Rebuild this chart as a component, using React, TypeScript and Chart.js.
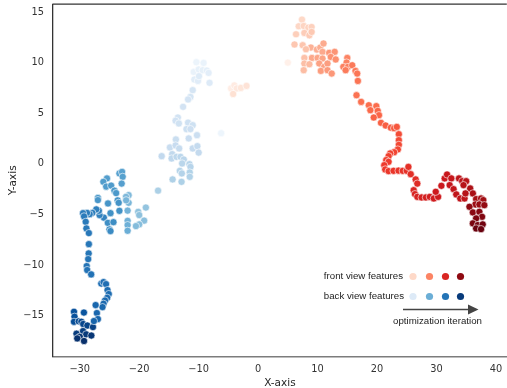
import React, { useEffect, useRef } from "react";
import { Chart, registerables } from "chart.js";

Chart.register(...registerables);

type Pt = [number, number];

// ---- front view features (red), grouped by optimization stage ----
const frontStage1: Pt[] = [
  [5.0, 10.0], [-4.55, 7.45], [-4.0, 7.75], [-3.6, 7.45], [-2.9, 7.5], [-1.95, 7.7], [-4.2, 6.9],
];
const frontStage2: Pt[] = [
  [7.38, 14.25], [6.83, 13.59], [7.67, 13.62], [8.45, 13.46], [9.0, 13.52], [6.38, 12.8], [7.78, 12.93],
  [8.62, 12.7], [9.0, 13.03], [6.12, 11.79], [7.5, 11.72], [8.05, 11.32], [7.78, 10.46], [7.78, 9.91],
  [7.67, 9.25], [8.62, 9.84],
];
const frontStage3: Pt[] = [
  [8.88, 11.49], [9.88, 11.29], [10.45, 11.49], [11.0, 11.89], [10.83, 11.06], [9.05, 10.46], [10.0, 10.46],
  [10.83, 10.4], [10.28, 9.91], [11.12, 9.58], [11.67, 9.91], [10.55, 9.18], [11.67, 9.25], [12.38, 8.92],
  [11.95, 10.96], [12.88, 11.06], [12.22, 10.56], [13.05, 10.31],
];
const frontStage4: Pt[] = [
  [15.0, 10.46], [14.88, 10.01], [14.33, 9.58], [15.12, 9.58], [14.72, 9.25], [15.83, 9.74], [16.38, 9.18],
  [16.67, 8.92], [16.78, 8.19], [16.55, 6.78], [17.33, 6.12], [18.62, 5.79], [19.88, 5.7], [18.88, 5.3],
  [20.12, 5.23], [20.33, 4.81], [19.45, 4.58], [20.67, 4.05], [21.45, 3.79], [22.33, 3.57], [22.88, 3.52],
  [23.33, 3.65],
];
const frontStage5: Pt[] = [
  [23.67, 2.93], [23.67, 2.34], [23.67, 1.88], [23.5, 1.42], [22.88, 1.15], [22.22, 1.03], [21.95, 0.76],
  [21.55, 0.37], [21.95, 0.2], [21.22, -0.13], [21.38, -0.55], [21.95, -0.72], [22.78, -0.69], [23.62, -0.67],
  [24.33, -0.69], [25.0, -0.69], [25.28, -0.3], [25.67, -1.02], [26.5, -1.54], [26.78, -1.95],
];
const frontStage6: Pt[] = [
  [26.17, -2.6], [26.38, -2.99], [26.78, -3.26], [27.5, -3.32], [28.22, -3.32], [28.88, -3.26], [29.55, -3.42],
  [30.28, -3.26], [29.88, -2.76], [30.83, -2.17], [31.38, -1.44], [31.78, -1.05], [32.5, -1.44], [32.22, -2.1],
  [32.88, -2.5], [33.33, -3.02], [34.0, -3.42], [34.72, -3.42], [33.78, -1.44], [34.33, -1.71], [35.0, -1.71],
  [34.55, -2.1], [34.88, -2.92],
];
const frontStage7: Pt[] = [
  [35.67, -2.43], [36.12, -2.92], [36.67, -3.48], [37.5, -3.42], [37.88, -3.58], [36.55, -4.01], [37.22, -4.01],
  [38.05, -4.08], [35.55, -4.24], [36.12, -4.8], [37.22, -4.74], [37.67, -5.23], [36.67, -5.39], [36.12, -5.88],
  [36.95, -6.05], [37.78, -5.98], [36.67, -6.38], [37.5, -6.45],
];

// ---- back view features (blue), grouped by optimization stage ----
const backStage1: Pt[] = [
  [-6.22, 3.03], [-10.38, 10.04], [-9.17, 9.97], [-10.83, 9.08], [-10.0, 9.32], [-9.33, 9.25], [-8.62, 9.22],
  [-8.33, 8.98], [-10.72, 8.33], [-10.12, 8.19], [-9.95, 8.66], [-8.17, 8.0],
];
const backStage2: Pt[] = [
  [-11.0, 7.28], [-11.38, 6.61], [-11.78, 6.36], [-12.62, 5.63], [-13.5, 4.58], [-13.88, 4.26], [-13.33, 3.99],
  [-11.78, 4.07], [-11.0, 3.82], [-12.05, 3.43], [-11.38, 3.43], [-10.28, 2.83], [-11.67, 2.51], [-13.83, 2.41],
  [-14.83, 1.62], [-13.88, 1.82], [-13.28, 1.52], [-11.0, 1.52], [-10.22, 1.75], [-10.0, 1.11], [-16.22, 0.76],
  [-14.45, 0.96], [-14.55, 0.53], [-13.72, 0.69], [-13.05, 0.69], [-12.5, 0.43], [-12.78, 0.04], [-11.55, -0.03],
  [-11.38, -0.3], [-13.17, -0.69], [-12.83, -0.95], [-11.5, -0.85], [-11.5, -1.28], [-14.38, -1.54],
  [-12.88, -1.78], [-16.83, -2.65],
];
const backStage3: Pt[] = [
  [-18.88, -4.32], [-20.17, -4.74], [-20.0, -5.06], [-19.17, -5.61], [-20.0, -5.98], [-20.55, -6.15],
  [-21.78, -3.09], [-22.22, -3.26], [-21.78, -3.85], [-22.2, -3.6], [-21.95, -4.62], [-21.95, -5.63],
  [-21.95, -6.05], [-21.95, -6.61],
];
const backStage4: Pt[] = [
  [-23.33, -0.95], [-22.88, -0.79], [-22.78, -1.28], [-22.95, -1.95], [-25.42, -1.44], [-26.03, -1.78],
  [-25.55, -2.25], [-24.72, -2.15], [-24.17, -2.65], [-23.88, -2.89], [-26.95, -3.37], [-26.95, -3.58],
  [-25.25, -3.91], [-23.62, -3.61], [-23.45, -3.85], [-23.33, -4.64], [-24.83, -4.87], [-25.28, -5.83],
  [-24.33, -5.76], [-25.0, -6.48], [-24.83, -6.64],
];
const backStage5: Pt[] = [
  [-25.95, -5.31], [-26.67, -5.06], [-26.78, -4.64], [-27.22, -4.5], [-27.88, -4.84], [-28.33, -4.97],
  [-28.78, -4.84], [-29.45, -4.87], [-29.28, -5.19], [-29.0, -5.73], [-28.88, -6.38], [-28.47, -6.84],
  [-28.47, -7.93], [-28.5, -8.85], [-28.58, -9.41], [-28.83, -10.1], [-28.75, -10.49], [-28.08, -10.92],
  [-26.38, -11.83], [-26.0, -11.68], [-25.58, -11.88], [-25.33, -12.47], [-25.12, -12.86], [-25.38, -13.23],
  [-25.75, -13.5], [-26.0, -13.82], [-26.17, -14.15], [-27.33, -13.95], [-27.12, -14.74], [-26.95, -15.33],
  [-27.62, -15.53],
];
const backStage6: Pt[] = [
  [-29.3, -14.69], [-30.97, -14.61], [-30.88, -15.1], [-30.97, -15.6], [-30.17, -15.56], [-29.72, -15.6],
  [-29.42, -15.82], [-28.72, -15.97], [-27.78, -16.12], [-29.45, -16.52], [-30.55, -16.78], [-28.92, -16.84],
  [-28.05, -16.96], [-30.0, -17.08], [-30.42, -17.24], [-29.28, -17.5],
];

const xTicks = [-30, -20, -10, 0, 10, 20, 30, 40];
const yTicks = [-15, -10, -5, 0, 5, 10, 15];
const xLabel = "X-axis";
const yLabel = "Y-axis";
const legendFront = "front view features";
const legendBack = "back view features";
const arrowLabel = "optimization iteration";

// ---- styling ----
const REDS = ["#fff5f0", "#fee0d2", "#fcbba1", "#fc9272", "#fb6a4a", "#ef3b2c", "#cb181d", "#a50f15", "#67000d"];
const BLUES = ["#f7fbff", "#deebf7", "#c6dbef", "#9ecae1", "#6baed6", "#4292c6", "#2171b5", "#08519c", "#08306b"];

function hexRgb(h: string) {
  const n = parseInt(h.slice(1), 16);
  return [(n >> 16) & 255, (n >> 8) & 255, n & 255];
}
function cmap(stops: string[], t: number) {
  const n = stops.length - 1;
  const p = Math.min(Math.max(t, 0), 1) * n;
  const i = Math.min(Math.floor(p), n - 1);
  const f = p - i;
  const a = hexRgb(stops[i]);
  const b = hexRgb(stops[i + 1]);
  const c = a.map((v, k) => Math.round(v + (b[k] - v) * f));
  return `rgb(${c[0]},${c[1]},${c[2]})`;
}

const stages = [
  { pts: backStage1, map: BLUES, from: 0.05, to: 0.13 },
  { pts: backStage2, map: BLUES, from: 0.17, to: 0.33 },
  { pts: backStage3, map: BLUES, from: 0.4, to: 0.5 },
  { pts: backStage4, map: BLUES, from: 0.55, to: 0.65 },
  { pts: backStage5, map: BLUES, from: 0.68, to: 0.8 },
  { pts: backStage6, map: BLUES, from: 0.86, to: 1.0 },
  { pts: frontStage1, map: REDS, from: 0.03, to: 0.12 },
  { pts: frontStage2, map: REDS, from: 0.15, to: 0.25 },
  { pts: frontStage3, map: REDS, from: 0.28, to: 0.38 },
  { pts: frontStage4, map: REDS, from: 0.42, to: 0.55 },
  { pts: frontStage5, map: REDS, from: 0.58, to: 0.68 },
  { pts: frontStage6, map: REDS, from: 0.7, to: 0.82 },
  { pts: frontStage7, map: REDS, from: 0.85, to: 1.0 },
];

const legendLevels = [0.15, 0.42, 0.7, 0.92];
const legendLevelsBlue = [0.13, 0.5, 0.74, 0.96];

const fmt = (v: number) => (v < 0 ? "\u2212" + Math.abs(v) : String(v));

const overlay = {
  id: "overlay",
  afterDraw(chart: any) {
    const ctx = chart.ctx as CanvasRenderingContext2D;
    const a = chart.chartArea;
    ctx.save();
    // top spine
    ctx.strokeStyle = "#333333";
    ctx.lineWidth = 1.3;
    ctx.beginPath();
    ctx.moveTo(a.left - 0.6, a.top);
    ctx.lineTo(a.right, a.top);
    ctx.stroke();

    // axis titles
    ctx.fillStyle = "#262626";
    ctx.font = '10.5px "DejaVu Sans"';
    ctx.textAlign = "center";
    ctx.textBaseline = "middle";
    ctx.fillText(xLabel, (a.left + a.right) / 2, 383);
    ctx.save();
    ctx.translate(13, (a.top + a.bottom) / 2);
    ctx.rotate(-Math.PI / 2);
    ctx.fillText(yLabel, 0, 0);
    ctx.restore();

    // custom legend
    ctx.font = '9.7px "Liberation Sans", Arial, sans-serif';
    ctx.textAlign = "right";
    ctx.fillStyle = "#222222";
    ctx.fillText(legendFront, 403, 276);
    ctx.fillText(legendBack, 404, 296);
    const dotX = [413, 429.5, 445.5, 460.5];
    dotX.forEach((x, i) => {
      ctx.fillStyle = cmap(REDS, legendLevels[i]);
      ctx.beginPath();
      ctx.arc(x, 276.5, 3.6, 0, Math.PI * 2);
      ctx.fill();
      ctx.fillStyle = cmap(BLUES, legendLevelsBlue[i]);
      ctx.beginPath();
      ctx.arc(x, 296.5, 3.6, 0, Math.PI * 2);
      ctx.fill();
    });
    // arrow
    ctx.strokeStyle = "#444444";
    ctx.fillStyle = "#444444";
    ctx.lineWidth = 1.4;
    ctx.beginPath();
    ctx.moveTo(403, 309.5);
    ctx.lineTo(470, 309.5);
    ctx.stroke();
    ctx.beginPath();
    ctx.moveTo(478.5, 309.5);
    ctx.lineTo(468, 304.5);
    ctx.lineTo(468, 314.5);
    ctx.closePath();
    ctx.fill();
    ctx.fillStyle = "#222222";
    ctx.textAlign = "center";
    ctx.fillText(arrowLabel, 437.5, 321);
    ctx.restore();
  },
};

export default function App() {
  const ref = useRef<HTMLCanvasElement | null>(null);
  useEffect(() => {
    if (!ref.current) return;
    const datasets = stages.map((s) => ({
      data: s.pts.map(([x, y]) => ({ x, y })),
      backgroundColor: s.pts.map((_, i) =>
        cmap(s.map, s.from + (s.to - s.from) * (s.pts.length > 1 ? i / (s.pts.length - 1) : 0))
      ),
      borderColor: "#ffffff",
      borderWidth: 0.6,
      pointRadius: 3.6,
      pointHoverRadius: 3.6,
    }));
    const chart = new Chart(ref.current, {
      type: "scatter",
      data: { datasets },
      options: {
        animation: false,
        responsive: false,
        maintainAspectRatio: false,
        devicePixelRatio: 1,
        events: [],
        layout: { padding: { top: 4, left: 0, right: 0, bottom: 0 } },
        plugins: { legend: { display: false }, tooltip: { enabled: false } },
        scales: {
          x: {
            type: "linear",
            min: -34.5,
            max: 41.83,
            grid: { display: false, drawTicks: false },
            border: { display: true, color: "#7c7c7c", width: 1.6 },
            ticks: {
              autoSkip: false,
              maxRotation: 0,
              padding: 7,
              color: "#333333",
              font: { family: "DejaVu Sans", size: 9.8 },
              callback: (v: any) => fmt(Number(v)),
            },
            afterBuildTicks: (axis: any) => {
              axis.ticks = xTicks.map((v) => ({ value: v }));
            },
            afterFit: (axis: any) => {
              axis.height = 31.5;
              axis.paddingLeft = 0;
              axis.paddingRight = 0;
            },
          },
          y: {
            type: "linear",
            min: -19.03,
            max: 15.77,
            grid: { display: false, drawTicks: false },
            border: { display: true, color: "#333333", width: 1.3 },
            ticks: {
              autoSkip: false,
              padding: 9,
              color: "#333333",
              font: { family: "DejaVu Sans", size: 9.8 },
              callback: (v: any) => fmt(Number(v)),
            },
            afterBuildTicks: (axis: any) => {
              axis.ticks = yTicks.map((v) => ({ value: v }));
            },
            afterFit: (axis: any) => {
              axis.width = 53;
              axis.paddingTop = 0;
              axis.paddingBottom = 0;
            },
          },
        },
      },
      plugins: [overlay],
    });
    return () => chart.destroy();
  }, []);
  return (
    <div
      style={{
        position: "absolute",
        left: 0,
        top: 0,
        width: 507,
        height: 388,
        overflow: "hidden",
        background: "#ffffff",
      }}
    >
      <canvas ref={ref} width={511} height={388} style={{ width: 511, height: 388, display: "block" }} />
    </div>
  );
}
